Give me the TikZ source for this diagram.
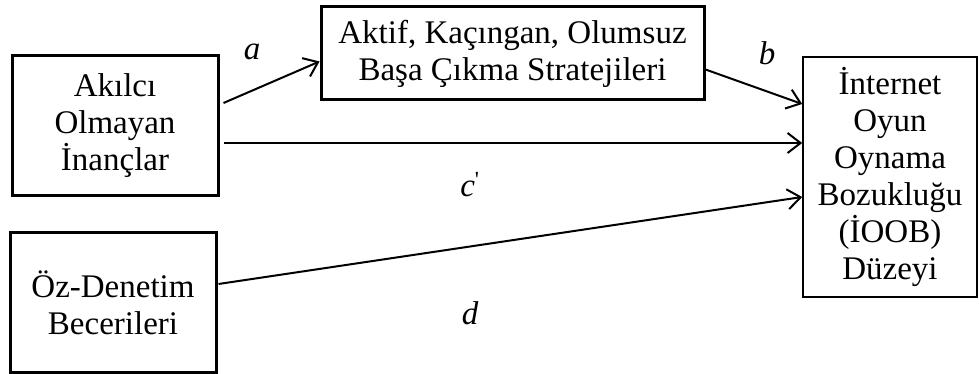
\documentclass[tikz,border=0pt]{standalone}
\usepackage{fontspec}
\setmainfont{Liberation Serif}
\usetikzlibrary{arrows.meta}
\begin{document}
\begin{tikzpicture}[x=1pt,y=1pt,
  box/.style={draw,line width=3pt,inner sep=0pt,align=center,font=\fontsize{33}{37}\selectfont},
  thinbox/.style={draw,line width=1.6pt,inner sep=0pt,align=center,font=\fontsize{33}{37}\selectfont},
  conn/.style={line width=2pt,-{Straight Barb[length=13pt,width=20pt,line width=2pt]}},
  lbl/.style={anchor=base,inner sep=0pt,font=\fontsize{33}{37}\selectfont\itshape}]
\useasboundingbox (0,0) rectangle (979,374);
\node[box,minimum width=206pt,minimum height=140pt] (L) at (115,248) {Akılcı\\Olmayan\\İnançlar};
\node[box,minimum width=383pt,minimum height=93pt] (M) at (512.5,320.5) {Aktif, Kaçıngan, Olumsuz\\Başa Çıkma Stratejileri};
\node[thinbox,minimum width=174pt,minimum height=240pt] (R) at (890,197) {İnternet\\Oyun\\Oynama\\Bozukluğu\\(İOOB)\\Düzeyi};
\node[box,minimum width=206pt,minimum height=140pt] (O) at (113,71) {Öz-Denetim\\Becerileri};
\draw[conn] ([xshift=4pt,yshift=23pt]L.east) -- ([yshift=-8pt]M.west);
\draw[conn] ([yshift=-16pt]M.east) -- ([yshift=73pt]R.west);
\draw[conn] ([xshift=4pt,yshift=-17pt]L.east) -- ([yshift=34pt]R.west);
\draw[conn] ([xshift=1pt,yshift=19pt]O.east) -- ([yshift=-20pt]R.west);
\node[lbl] (la) at (252,314) {a};
\node[lbl] (lb) at (767,309) {b};
\node[lbl] (lc) at (470,177) {c\textsuperscript{\upshape\textquotesingle}};
\node[lbl] (ld) at (470,49) {d};
\end{tikzpicture}
\end{document}
